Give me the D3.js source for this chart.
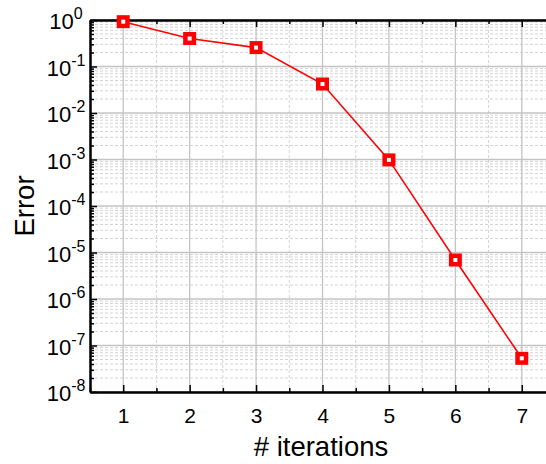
<!DOCTYPE html>
<html>
<head>
<meta charset="utf-8">
<script src="https://cdn.jsdelivr.net/npm/d3@7"></script>
<style>
  body { margin: 0; background: #fff; }
  text { font-family: Arial, "Liberation Sans", sans-serif; }
</style>
</head>
<body>
<div id="vis"></div>
<script>
// Frame and margins
const FRAME_WIDTH = 546;
const FRAME_HEIGHT = 464;
const MARGINS = {left: 90, right: -9, top: 20, bottom: 72};

const VIS_WIDTH = FRAME_WIDTH - MARGINS.left - MARGINS.right;
const VIS_HEIGHT = FRAME_HEIGHT - MARGINS.top - MARGINS.bottom;

// Data
const ITERATIONS = [1, 2, 3, 4, 5, 6, 7];
const ERRORS = [0.92, 0.40, 0.255, 0.042, 0.00098, 0.0000069, 0.000000053];
const X_TICKS = [1, 2, 3, 4, 5, 6, 7];
const Y_EXPONENTS = [0, -1, -2, -3, -4, -5, -6, -7, -8];

const FRAME = d3.select("#vis")
  .append("svg")
    .attr("width", FRAME_WIDTH)
    .attr("height", FRAME_HEIGHT);

const X_SCALE = d3.scaleLinear().domain([0.5, 7.5]).range([0, VIS_WIDTH]);
const Y_SCALE = d3.scaleLog().domain([1e-8, 1]).range([VIS_HEIGHT, 0]);

const G = FRAME.append("g")
  .attr("transform", "translate(" + MARGINS.left + "," + MARGINS.top + ")");

// minor values
const xMinor = d3.range(0.5, 7.6, 1);
const yMinor = [];
Y_EXPONENTS.forEach((e) => {
  if (e === 0) return;
  for (let k = 2; k <= 9; k++) yMinor.push(k * Math.pow(10, e));
});
const yMajor = Y_EXPONENTS.map((e) => Math.pow(10, e));

// Grid lines
G.selectAll(".vminor").data(xMinor).enter().append("line")
  .attr("x1", (d) => X_SCALE(d)).attr("x2", (d) => X_SCALE(d))
  .attr("y1", 0).attr("y2", VIS_HEIGHT)
  .attr("stroke", "#d4d4d4").attr("stroke-width", 1)
  .attr("stroke-dasharray", "3,2");
G.selectAll(".hminor").data(yMinor).enter().append("line")
  .attr("x1", 0).attr("x2", VIS_WIDTH)
  .attr("y1", (d) => Y_SCALE(d)).attr("y2", (d) => Y_SCALE(d))
  .attr("stroke", "#d4d4d4").attr("stroke-width", 1)
  .attr("stroke-dasharray", "3,2");
G.selectAll(".vmajor").data(X_TICKS).enter().append("line")
  .attr("x1", (d) => X_SCALE(d)).attr("x2", (d) => X_SCALE(d))
  .attr("y1", 0).attr("y2", VIS_HEIGHT)
  .attr("stroke", "#c4c4c4").attr("stroke-width", 1.3);
G.selectAll(".hmajor").data(yMajor).enter().append("line")
  .attr("x1", 0).attr("x2", VIS_WIDTH)
  .attr("y1", (d) => Y_SCALE(d)).attr("y2", (d) => Y_SCALE(d))
  .attr("stroke", "#c4c4c4").attr("stroke-width", 1.3);

// Axes (ticks pointing inward)
const bottomMajor = G.append("g")
  .attr("transform", "translate(0," + VIS_HEIGHT + ")")
  .call(d3.axisBottom(X_SCALE).tickValues(X_TICKS).tickSizeInner(-7).tickSizeOuter(0)
    .tickPadding(16).tickFormat(d3.format("d")));
const bottomMinor = G.append("g")
  .attr("transform", "translate(0," + VIS_HEIGHT + ")")
  .call(d3.axisBottom(X_SCALE).tickValues(xMinor).tickSizeInner(-4).tickSizeOuter(0).tickFormat(""));
const topMajor = G.append("g")
  .call(d3.axisTop(X_SCALE).tickValues(X_TICKS).tickSizeInner(-7).tickSizeOuter(0).tickFormat(""));
const topMinor = G.append("g")
  .call(d3.axisTop(X_SCALE).tickValues(xMinor).tickSizeInner(-4).tickSizeOuter(0).tickFormat(""));
const leftMinor = G.append("g")
  .call(d3.axisLeft(Y_SCALE).tickValues(yMinor).tickSizeInner(-4).tickSizeOuter(0).tickFormat(""));
const leftMajor = G.append("g")
  .call(d3.axisLeft(Y_SCALE).tickValues(yMajor).tickSizeInner(-7).tickSizeOuter(0).tickFormat(""));

[bottomMajor, bottomMinor, topMajor, topMinor, leftMinor, leftMajor].forEach((ax) => {
  ax.selectAll(".domain").attr("stroke", "#000").attr("stroke-width", 2);
  ax.selectAll(".tick line").attr("stroke", "#000").attr("stroke-width", 1.5);
});
bottomMajor.selectAll("text")
  .attr("font-size", "21px").attr("fill", "#000")
  .style("font-family", "Arial, 'Liberation Sans', sans-serif");

// Y tick labels as 10^n
const yLabels = G.selectAll(".ylab").data(Y_EXPONENTS).enter().append("text")
  .attr("x", -24)
  .attr("y", (d) => Y_SCALE(Math.pow(10, d)) + 9)
  .attr("text-anchor", "middle")
  .attr("font-size", "22px")
  .attr("fill", "#000");
yLabels.append("tspan").text("10");
yLabels.append("tspan")
  .attr("font-size", "16px")
  .attr("dy", -10)
  .text((d) => d === 0 ? "0" : "-" + Math.abs(d));

// Line and markers
const points = ITERATIONS.map((d, i) => [d, ERRORS[i]]);
G.append("path")
  .datum(points)
  .attr("fill", "none")
  .attr("stroke", "#ff0000")
  .attr("stroke-width", 1.6)
  .attr("d", d3.line().x((d) => X_SCALE(d[0])).y((d) => Y_SCALE(d[1])));

G.selectAll(".marker").data(points).enter().append("rect")
  .attr("x", (d) => X_SCALE(d[0]) - 4.25)
  .attr("y", (d) => Y_SCALE(d[1]) - 4.25)
  .attr("width", 8.5).attr("height", 8.5)
  .attr("fill", "#fff")
  .attr("stroke", "#ff0000")
  .attr("stroke-width", 4.5);

// Axis titles
FRAME.append("text")
  .attr("transform", "translate(34," + (MARGINS.top + VIS_HEIGHT / 2) + ") rotate(-90)")
  .attr("text-anchor", "middle")
  .attr("font-size", "27.5px")
  .text("Error");

FRAME.append("text")
  .attr("x", 321)
  .attr("y", 456)
  .attr("text-anchor", "middle")
  .attr("font-size", "27.5px")
  .text("# iterations");
</script>
</body>
</html>
